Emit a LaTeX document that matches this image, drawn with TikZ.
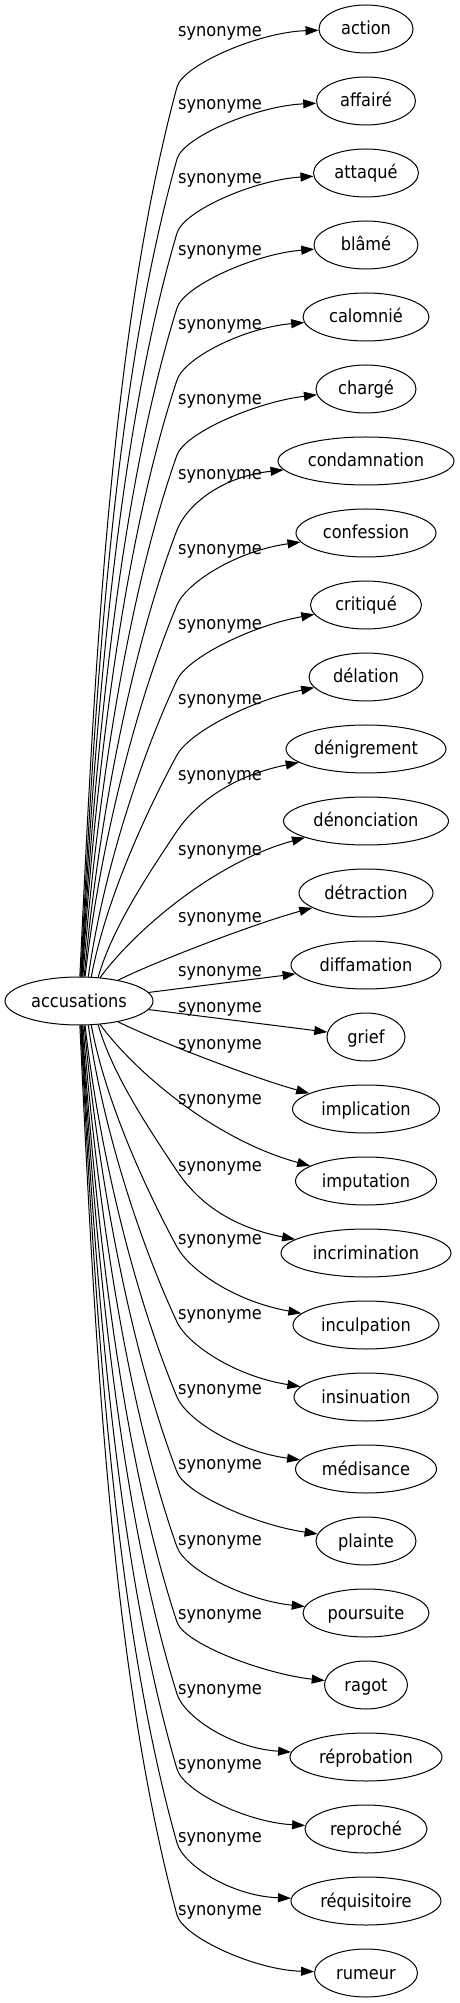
\documentclass[tikz,border=0pt]{standalone}
\usepackage{fontspec}
\setmainfont{DejaVu Sans Condensed}
\usetikzlibrary{shapes.geometric,arrows.meta}
\tikzset{
  edge/.style={line width=1pt, -{Triangle[length=13pt,width=9pt]}},
  tgt/.style={draw, ellipse, line width=1pt, inner sep=0pt, minimum height=48pt, text height=12pt, text depth=0pt},
  lbl/.style={inner sep=0pt},
}
\newcommand\fedge[8]{%
  \begin{scope}[yscale=#3]
  \draw[edge] (root.#2) .. controls #4 and #5 .. #6 .. controls #7 and #8 .. (#1);
  \end{scope}}
\begin{document}
\begin{tikzpicture}[x=1pt,y=1pt,font=\fontsize{18}{21}\selectfont]
\useasboundingbox (0,-1002) rectangle (459,1001);
% root
\node[tgt, minimum width=148pt] (root) at (79,0) {accusations};
% targets
\node[tgt, minimum width=94pt]  (n0)  at (366,972)  {action};
\node[tgt, minimum width=99pt]  (n1)  at (366,900)  {affairé};
\node[tgt, minimum width=105pt] (n2)  at (366,828)  {attaqué};
\node[tgt, minimum width=104pt] (n3)  at (366,756)  {blâmé};
\node[tgt, minimum width=126pt] (n4)  at (366,684)  {calomnié};
\node[tgt, minimum width=100pt] (n5)  at (366,612)  {chargé};
\node[tgt, minimum width=176pt] (n6)  at (366,540)  {condamnation};
\node[tgt, minimum width=140pt] (n7)  at (366,468)  {confession};
\node[tgt, minimum width=111pt] (n8)  at (366,396)  {critiqué};
\node[tgt, minimum width=114pt] (n9)  at (366,324)  {délation};
\node[tgt, minimum width=160pt] (n10) at (366,252)  {dénigrement};
\node[tgt, minimum width=165pt] (n11) at (366,180)  {dénonciation};
\node[tgt, minimum width=134pt] (n12) at (366,108)  {détraction};
\node[tgt, minimum width=150pt] (n13) at (366,36)   {diffamation};
\node[tgt, minimum width=78pt]  (n14) at (366,-36)  {grief};
\node[tgt, minimum width=147pt] (n15) at (366,-108) {implication};
\node[tgt, minimum width=141pt] (n16) at (366,-180) {imputation};
\node[tgt, minimum width=170pt] (n17) at (366,-252) {incrimination};
\node[tgt, minimum width=146pt] (n18) at (366,-324) {inculpation};
\node[tgt, minimum width=144pt] (n19) at (366,-396) {insinuation};
\node[tgt, minimum width=141pt] (n20) at (366,-468) {médisance};
\node[tgt, minimum width=100pt] (n21) at (366,-540) {plainte};
\node[tgt, minimum width=126pt] (n22) at (366,-612) {poursuite};
\node[tgt, minimum width=83pt]  (n23) at (366,-684) {ragot};
\node[tgt, minimum width=152pt] (n24) at (366,-756) {réprobation};
\node[tgt, minimum width=122pt] (n25) at (366,-828) {reproché};
\node[tgt, minimum width=150pt] (n26) at (366,-900) {réquisitoire};
\node[tgt, minimum width=103pt] (n27) at (366,-972) {rumeur};
% labels
\foreach \ly [count=\k] in {968,895,821,749,675,600,525,450,375,300,224,149,82,28,-8,-45,-100,-167,-240,-315,-390,-465,-541,-615,-690,-765,-838,-911}
  \node[lbl] (l\k) at (220,\ly) {synonyme};
% upper edges
\fedge{n0}{88}{1}{(94,321)}{(109.7,664.8)}{(177,914)}{(182.9,936)}{(259,969)}
\fedge{n1}{86}{1}{(94.5,297)}{(112.5,613)}{(177,842)}{(183.2,864)}{(256.5,895)}
\fedge{n2}{85}{1}{(95,272)}{(115.5,559.7)}{(177,768)}{(183.5,790)}{(253.5,821)}
\fedge{n3}{84}{1}{(95.5,247)}{(118.7,505.7)}{(177,693)}{(183.8,715)}{(254,747)}
\fedge{n4}{83}{1}{(96,223)}{(121.8,453.8)}{(177,621)}{(184.3,643)}{(243,673)}
\fedge{n5}{81}{1}{(97,198)}{(125.4,399.8)}{(177,546)}{(184.8,568)}{(256,599)}
\fedge{n6}{78}{1}{(98,173)}{(129.3,345.8)}{(177,471)}{(185.4,493)}{(218,524)}
\fedge{n7}{76}{1}{(99,148)}{(133.5,291.8)}{(177,396)}{(186.2,418)}{(236,450)}
\fedge{n8}{69}{1}{(102,123)}{(138.2,237.8)}{(177,321)}{(187.3,343)}{(250.5,375)}
\fedge{n9}{63}{1}{(105,98)}{(143.4,183.8)}{(177,246)}{(188.9,268)}{(249,300)}
\fedge{n10}{51}{1}{(112,73)}{(149.7,129.1)}{(177,170)}{(191.7,192)}{(226,224)}
% middle edges
\draw[edge] (root.48) .. controls (135,71) and (215,139) .. (n11);
\draw[edge] (root.28) .. controls (150,37) and (250,76) .. (n12);
\draw[edge] (root.7) -- (n13);
\draw[edge] (root.353) -- (n14);
\draw[edge] (root.332) .. controls (150,-37) and (250,-76) .. (n15);
\draw[edge] (root.312) .. controls (135,-71) and (215,-139) .. (n16);
% lower edges
\fedge{n17}{309}{-1}{(112,73)}{(149.7,129.1)}{(177,170)}{(191.7,192)}{(221,224)}
\fedge{n18}{297}{-1}{(105,98)}{(143.4,183.8)}{(177,246)}{(188.9,268)}{(233,300)}
\fedge{n19}{291}{-1}{(102,123)}{(138.2,237.8)}{(177,321)}{(187.3,343)}{(234,375)}
\fedge{n20}{284}{-1}{(99,148)}{(133.5,291.8)}{(177,396)}{(186.2,418)}{(235.5,450)}
\fedge{n21}{282}{-1}{(98,173)}{(129.3,345.8)}{(177,471)}{(185.4,493)}{(256,524)}
\fedge{n22}{279}{-1}{(97,198)}{(125.4,399.8)}{(177,546)}{(184.8,568)}{(243,599)}
\fedge{n23}{277}{-1}{(96,223)}{(121.8,453.8)}{(177,621)}{(184.3,643)}{(264.5,673)}
\fedge{n24}{276}{-1}{(95.5,247)}{(118.7,505.7)}{(177,693)}{(183.8,715)}{(230,747)}
\fedge{n25}{275}{-1}{(95,272)}{(115.5,559.7)}{(177,768)}{(183.5,790)}{(245,821)}
\fedge{n26}{274}{-1}{(94.5,297)}{(112.5,613)}{(177,842)}{(183.2,864)}{(231,895)}
\fedge{n27}{272}{-1}{(94,321)}{(109.7,664.8)}{(177,914)}{(182.9,936)}{(254.5,969)}
\end{tikzpicture}
\end{document}
